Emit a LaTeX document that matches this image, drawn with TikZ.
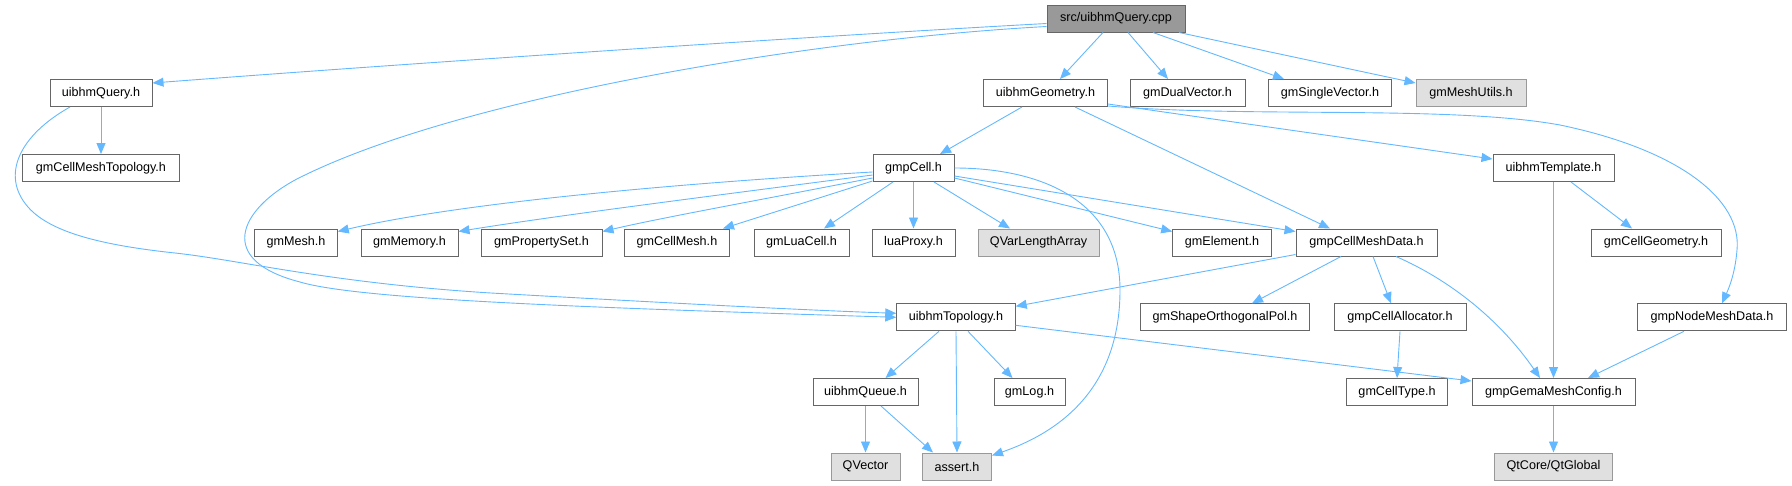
\documentclass[tikz,border=0pt]{standalone}
\usepackage{fontspec}
\setmainfont{Liberation Sans}
\usetikzlibrary{arrows.meta}
\definecolor{edgeblue}{HTML}{63B8FF}
\definecolor{boxline}{HTML}{666666}
\definecolor{greyline}{HTML}{999999}
\definecolor{greyfill}{HTML}{E0E0E0}
\definecolor{rootfill}{HTML}{999999}
\tikzset{
  box/.style={draw=boxline, line width=1pt, fill=white, inner sep=0pt, minimum height=27pt},
  greybox/.style={box, draw=greyline, fill=greyfill},
  rootbox/.style={box, fill=rootfill},
  edge/.style={draw=edgeblue, line width=0.9pt, -{Triangle[length=11pt,width=9pt]}}
}
\begin{document}
\begin{tikzpicture}[x=1pt,y=-1pt]
\fontsize{12.6}{15}\selectfont
\useasboundingbox (0,0) rectangle (1792,485);

\node[rootbox, minimum width=138] (cpp) at (1116,18.5) {src/uibhmQuery.cpp};

\node[box, minimum width=102] (query) at (101,93) {uibhmQuery.h};
\node[box, minimum width=124] (geom) at (1045.5,93) {uibhmGeometry.h};
\node[box, minimum width=115] (dual) at (1187.5,93) {gmDualVector.h};
\node[box, minimum width=123.5] (single) at (1330,93) {gmSingleVector.h};
\node[greybox, minimum width=110] (utils) at (1471,93) {gmMeshUtils.h};

\node[box, minimum width=156.5] (cmtopo) at (101,168) {gmCellMeshTopology.h};
\node[box, minimum width=81] (cell) at (913.5,168) {gmpCell.h};
\node[box, minimum width=121] (templ) at (1553.5,168) {uibhmTemplate.h};

\node[box, minimum width=82.5] (mesh) at (296,242.5) {gmMesh.h};
\node[box, minimum width=97] (memory) at (409.5,242.5) {gmMemory.h};
\node[box, minimum width=121] (propset) at (541.5,242.5) {gmPropertySet.h};
\node[box, minimum width=105.5] (cellmesh) at (677,242.5) {gmCellMesh.h};
\node[box, minimum width=95] (luacell) at (801.5,242.5) {gmLuaCell.h};
\node[box, minimum width=83] (luaproxy) at (913.5,242.5) {luaProxy.h};
\node[greybox, minimum width=121] (qvar) at (1038.5,242.5) {QVarLengthArray};
\node[box, minimum width=98.6] (element) at (1222,242.5) {gmElement.h};
\node[box, minimum width=141] (cmdata) at (1366.5,242.5) {gmpCellMeshData.h};
\node[box, minimum width=130] (cellgeom) at (1656,242.5) {gmCellGeometry.h};

\node[box, minimum width=118.4] (topo) at (956,317.3) {uibhmTopology.h};
\node[box, minimum width=169.5] (shape) at (1225,317.3) {gmShapeOrthogonalPol.h};
\node[box, minimum width=132] (alloc) at (1400,317.3) {gmpCellAllocator.h};
\node[box, minimum width=149] (nodemd) at (1712,317.3) {gmpNodeMeshData.h};

\node[box, minimum width=105] (queue) at (865.5,392) {uibhmQueue.h};
\node[box, minimum width=71] (log) at (1029.5,392) {gmLog.h};
\node[box, minimum width=101.6] (celltype) at (1397,392) {gmCellType.h};
\node[box, minimum width=163] (config) at (1553.5,392) {gmpGemaMeshConfig.h};

\node[greybox, minimum width=69] (qvector) at (865.5,466.5) {QVector};
\node[greybox, minimum width=69] (assert) at (957,466.5) {assert.h};
\node[greybox, minimum width=118.6] (qtglobal) at (1553.5,466.5) {QtCore/QtGlobal};

\draw[edge] ([yshift=-5pt]cpp.west) .. controls (800,37) and (400,64) .. ([yshift=10pt]query.east);
\draw[edge] ([yshift=-8pt]cpp.west) .. controls (800,40) and (450,100) .. (295,180)
  .. controls (240,210) and (215,260) .. (300,282)
  .. controls (360,300) and (600,308) .. (topo.west);
\draw[edge] ([xshift=-13pt]cpp.south) -- ([xshift=14.5pt]geom.north);
\draw[edge] ([xshift=12pt]cpp.south) -- ([xshift=-19.5pt]dual.north);
\draw[edge] ([xshift=37pt]cpp.south) -- ([xshift=-46pt]single.north);
\draw[edge] ([xshift=63pt]cpp.south) -- ([yshift=10pt]utils.west);

\draw[edge] (query) -- (cmtopo);
\draw[edge] ([xshift=-31pt]query.south) .. controls (20,135) and (0,175) .. (28,207)
  .. controls (50,232) and (100,245) .. (175,253)
  .. controls (240,260) and (330,283) .. (491,293)
  .. controls (650,302) and (800,310) .. ([yshift=4pt]topo.west);

\draw[edge] ([xshift=-23.5pt]geom.south) -- ([xshift=26.5pt]cell.north);
\draw[edge] ([xshift=29.5pt]geom.south) -- ([xshift=-36.5pt]cmdata.north);
\draw[edge] ([yshift=-11pt]geom.east) -- ([yshift=9pt]templ.west);
\draw[edge] ([yshift=-13pt]geom.east) .. controls (1250,118) and (1450,105) .. (1560,125)
  .. controls (1680,150) and (1742,200) .. (1737,250)
  .. controls (1735,275) and (1728,290) .. ([xshift=10pt]nodemd.north);

\draw[edge] ([yshift=-4pt]cell.west) .. controls (650,185) and (450,205) .. ([yshift=11pt]mesh.east);
\draw[edge] ([yshift=-7pt]cell.west) .. controls (720,195) and (560,215) .. ([yshift=11pt]memory.east);
\draw[edge] ([yshift=-10pt]cell.west) .. controls (760,200) and (660,218) .. ([yshift=11pt]propset.east);
\draw[edge] ([yshift=-13pt]cell.west) -- ([xshift=46pt]cellmesh.north);
\draw[edge] ([xshift=-20.5pt]cell.south) -- ([xshift=22.5pt]luacell.north);
\draw[edge] (cell) -- (luaproxy);
\draw[edge] ([xshift=20.5pt]cell.south) -- ([xshift=-28.5pt]qvar.north);
\draw[edge] ([yshift=-10pt]cell.east) -- ([yshift=11pt]element.west);
\draw[edge] ([yshift=-8pt]cell.east) -- ([yshift=11pt]cmdata.west);
\draw[edge] (cell.east) .. controls (1040,168) and (1120,200) .. (1120,290)
  .. controls (1120,370) and (1080,425) .. ([yshift=11pt]assert.east);

\draw[edge] ([yshift=-12pt]cmdata.west) -- ([yshift=11pt]topo.east);
\draw[edge] ([xshift=-25.5pt]cmdata.south) -- ([xshift=27pt]shape.north);
\draw[edge] ([xshift=6.5pt]cmdata.south) -- ([xshift=-9pt]alloc.north);
\draw[edge] ([xshift=29.5pt]cmdata.south) .. controls (1450,280) and (1500,320) .. ([xshift=-13.5pt]config.north);

\draw[edge] (templ) -- (config);
\draw[edge] ([xshift=17.5pt]templ.south) -- ([xshift=-24pt]cellgeom.north);

\draw[edge] ([xshift=-17pt]topo.south) -- ([xshift=20pt]queue.north);
\draw[edge] (topo.south) -- (assert.north);
\draw[edge] ([xshift=12pt]topo.south) -- ([xshift=-17pt]log.north);
\draw[edge] ([yshift=-8pt]topo.east) -- ([yshift=11pt]config.west);

\draw[edge] (alloc.south) -- (celltype.north);
\draw[edge] ([xshift=-28pt]nodemd.south) -- ([xshift=34.5pt]config.north);
\draw[edge] (config) -- (qtglobal);
\draw[edge] (queue) -- (qvector);
\draw[edge] ([xshift=15.5pt]queue.south) -- ([xshift=-24pt]assert.north);
\end{tikzpicture}
\end{document}
